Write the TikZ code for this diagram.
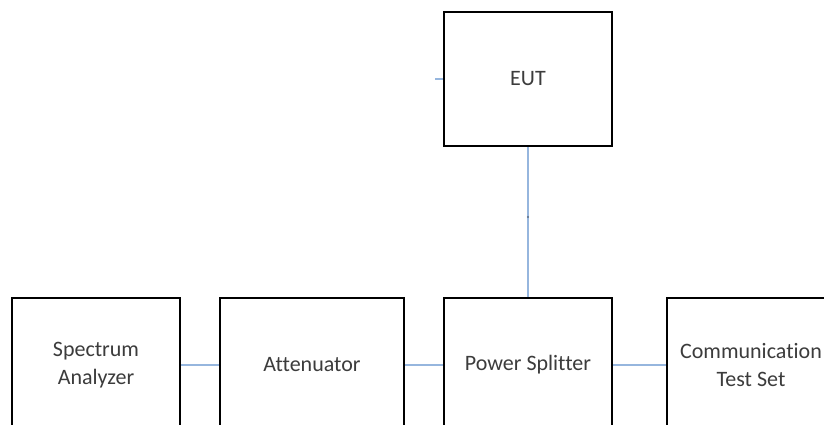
\documentclass[tikz,border=0pt]{standalone}
\usepackage{fontspec}
\setmainfont{Carlito}[Ligatures=NoCommon]
\usetikzlibrary{positioning}
\definecolor{wirecol}{RGB}{150,182,222}
\definecolor{txtcol}{RGB}{60,60,60}

\begin{document}
\begin{tikzpicture}[x=1pt, y=-1pt,
    block/.style={draw=black, line width=2.8pt, fill=white, minimum width=168pt, minimum height=134pt, inner sep=0pt, align=center, font=\fontsize{22}{28}\selectfont, text=txtcol},
    wire/.style={draw=wirecol, line width=1.4pt},
]

\useasboundingbox (0,0) rectangle (824,425);
\clip (0,0) rectangle (824,425);

% Equipment under test
\node[block] (eut) at (528, 79) {EUT};

% Bench row
\node[block] (analyzer) at (96, 365) {Spectrum\\Analyzer};
\node[block, minimum width=184pt] (atten) at (312, 365) {Attenuator};
\node[block] (splitter) at (528, 365) {Power Splitter};
\node[block] (commset) at (751, 365) {Communication\\Test Set};

% Cables
\draw[wire] (analyzer) -- (atten);
\draw[wire] (atten) -- (splitter);
\draw[wire] (splitter) -- (commset);
\draw[wire] (eut) -- (splitter);
\draw[wire] (eut.west) -- ++(-8,0);
\fill[wirecol!60!black] (528, 217) circle (1.2pt);

\end{tikzpicture}
\end{document}
